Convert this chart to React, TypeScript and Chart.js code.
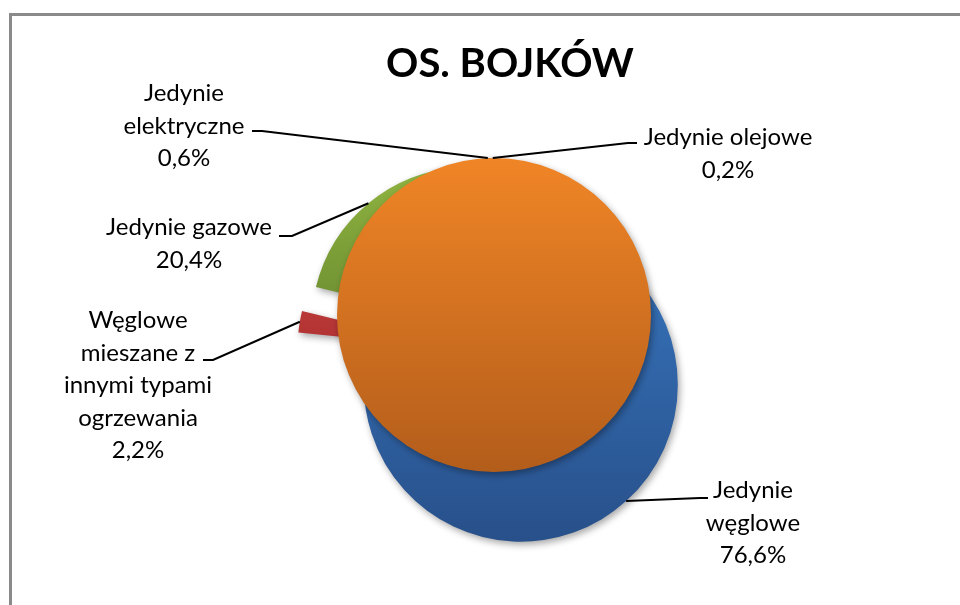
import React, { useEffect, useRef } from 'react';
import { Chart, registerables } from 'chart.js';

Chart.register(...registerables);

// ---- data ----
const chartTitle = 'OS. BOJKÓW';
const categories = [
  'Jedynie węglowe',
  'Węglowe mieszane z innymi typami ogrzewania',
  'Jedynie gazowe',
  'Jedynie elektryczne',
  'Jedynie olejowe',
  '',
];
const shares = [76.6, 2.2, 20.4, 0.6, 0.2, 0];
const showLabel = [true, true, true, true, true, false];

// ---- styles ----
const topColors = ['#3776bf', '#d64545', '#90b441', '#8f74b2', '#5cbcd6', '#f08526'];
const bottomColors = ['#28508a', '#8a2020', '#46631f', '#5f4880', '#2f8aa3', '#b35d1b'];
const RADIUS = 157;
const EXPLODE = 40;
const LABEL_FONT = '24px Lato';
const LINE_H = 32.5;

// label placement (pixel layout): centre x, first baseline y, wrap width, elbow and text-end of leader line
const labelLayout = [
  { cx: 753, y: 498, wrap: 95, elbow: [700, 498], end: [708, 498] },
  { cx: 138, y: 328, wrap: 165, elbow: [213, 360], end: [203, 360] },
  { cx: 189, y: 235, wrap: 300, elbow: [292, 236], end: [279, 236] },
  { cx: 184, y: 101, wrap: 140, elbow: [262, 131], end: [252, 131] },
  { cx: 728, y: 145, wrap: 300, elbow: [628, 143], end: [637, 143] },
  null,
];

function fmt(v: number) {
  return v.toFixed(1).replace('.', ',') + '%';
}

function wrapText(ctx: CanvasRenderingContext2D, text: string, maxW: number): string[] {
  const words = text.split(' ');
  const lines: string[] = [];
  let cur = '';
  for (const w of words) {
    const t = cur ? cur + ' ' + w : w;
    if (cur && ctx.measureText(t).width > maxW) {
      lines.push(cur);
      cur = w;
    } else {
      cur = t;
    }
  }
  if (cur) lines.push(cur);
  return lines;
}

const framePlugin = {
  id: 'frame',
  beforeDraw(chart: any) {
    const { ctx, width, height } = chart;
    ctx.save();
    ctx.fillStyle = '#ffffff';
    ctx.fillRect(0, 0, width, height);
    ctx.fillStyle = '#8a8a8a';
    ctx.fillRect(9, 13, width - 9, 3);
    ctx.fillRect(9, 13, 3, height - 13);
    ctx.fillStyle = '#000000';
    ctx.font = 'bold 40px Lato';
    ctx.textAlign = 'center';
    ctx.textBaseline = 'alphabetic';
    ctx.fillText(chartTitle, 510, 77);
    ctx.restore();
  },
};

const explodePlugin = {
  id: 'explode',
  afterDatasetsUpdate(chart: any) {
    const meta = chart.getDatasetMeta(0);
    meta.data.forEach((el: any, i: number) => {
      const mid = (el.startAngle + el.endAngle) / 2;
      el.x += Math.cos(mid) * EXPLODE;
      el.y += Math.sin(mid) * EXPLODE;
      const r = el.outerRadius;
      const g = chart.ctx.createLinearGradient(0, el.y - r, 0, el.y + r);
      g.addColorStop(0, topColors[i]);
      g.addColorStop(1, bottomColors[i]);
      el.options = Object.assign({}, el.options, { backgroundColor: g, borderWidth: 0 });
    });
  },
};

const shadowPlugin = {
  id: 'sliceShadow',
  beforeDatasetsDraw(chart: any) {
    const ctx = chart.ctx;
    ctx.save();
    ctx.shadowColor = 'rgba(0,0,0,0.35)';
    ctx.shadowBlur = 7;
    ctx.shadowOffsetX = 2;
    ctx.shadowOffsetY = 3;
  },
  afterDatasetsDraw(chart: any) {
    const ctx = chart.ctx;
    const meta = chart.getDatasetMeta(0);
    // zero-valued slice rendered as a full disc, as in the source picture
    meta.data.forEach((el: any, i: number) => {
      if (shares[i] === 0) {
        ctx.beginPath();
        ctx.arc(el.x, el.y, el.outerRadius, 0, Math.PI * 2);
        ctx.fillStyle = el.options.backgroundColor;
        ctx.fill();
      }
    });
    ctx.restore();
  },
};

const labelPlugin = {
  id: 'sliceLabels',
  afterDraw(chart: any) {
    const ctx = chart.ctx;
    const meta = chart.getDatasetMeta(0);
    ctx.save();
    ctx.font = LABEL_FONT;
    ctx.fillStyle = '#000000';
    ctx.strokeStyle = '#000000';
    ctx.lineWidth = 2;
    ctx.textAlign = 'center';
    ctx.textBaseline = 'alphabetic';
    meta.data.forEach((el: any, i: number) => {
      const lay = labelLayout[i];
      if (!showLabel[i] || !lay) return;
      const mid = (el.startAngle + el.endAngle) / 2;
      const ax = el.x + Math.cos(mid) * el.outerRadius;
      const ay = el.y + Math.sin(mid) * el.outerRadius;
      ctx.beginPath();
      ctx.moveTo(ax, ay);
      ctx.lineTo(lay.elbow[0], lay.elbow[1]);
      ctx.lineTo(lay.end[0], lay.end[1]);
      ctx.stroke();
      const lines = wrapText(ctx, categories[i], lay.wrap);
      lines.push(fmt(shares[i]));
      lines.forEach((ln, k) => ctx.fillText(ln, lay.cx, lay.y + k * LINE_H));
    });
    ctx.restore();
  },
};

export default function App() {
  const ref = useRef<HTMLCanvasElement>(null);
  useEffect(() => {
    document.body.style.margin = '0';
    const canvas = ref.current!;
    const chart = new Chart(canvas, {
      type: 'pie',
      data: {
        labels: categories,
        datasets: [
          {
            data: shares,
            backgroundColor: topColors,
            borderWidth: 0,
          },
        ],
      },
      options: {
        animation: false,
        responsive: false,
        radius: RADIUS,
        layout: { padding: { left: 28, right: 0, top: 105, bottom: 0 } },
        events: [],
        plugins: {
          legend: { display: false },
          tooltip: { enabled: false },
          title: { display: false },
        },
      } as any,
      plugins: [framePlugin, explodePlugin, shadowPlugin, labelPlugin],
    });
    return () => chart.destroy();
  }, []);
  return <canvas ref={ref} width={960} height={605} style={{ display: 'block' }} />;
}
